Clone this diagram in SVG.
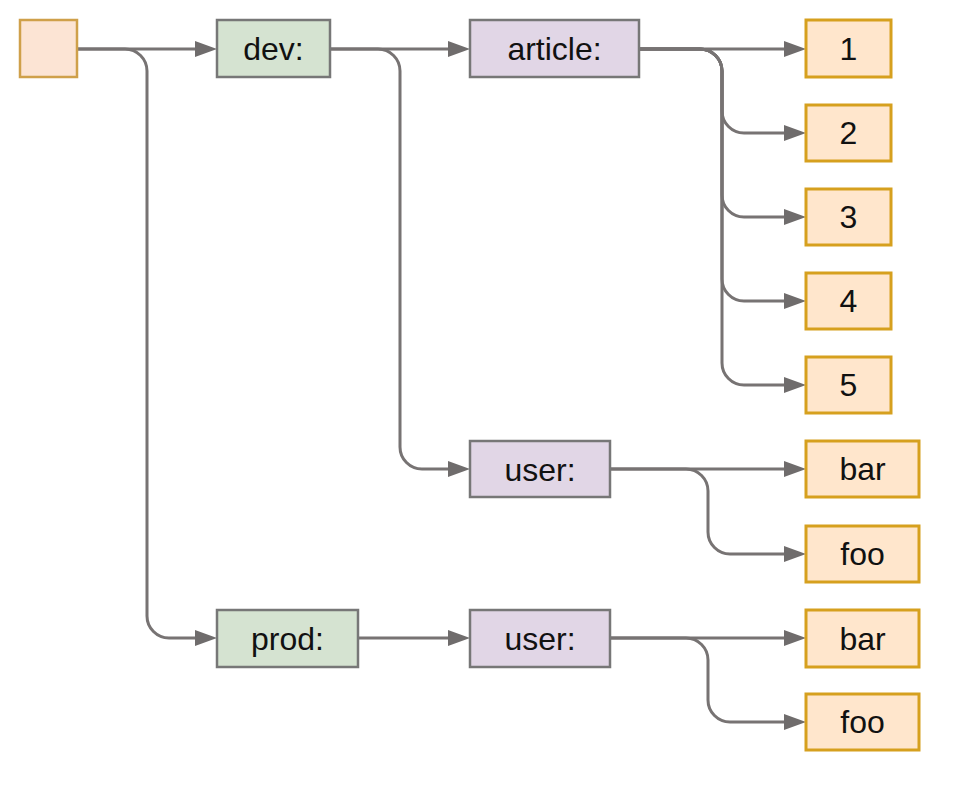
<svg xmlns="http://www.w3.org/2000/svg" width="960" height="792" viewBox="0 0 960 792">
  <style>
    .lbl { font-family: "Liberation Sans", Arial, sans-serif; font-size: 32px; fill: #111; text-anchor: middle; }
    .g { fill: #d5e3d1; stroke: #777; stroke-width: 2.5; }
    .p { fill: #e1d6e6; stroke: #777; stroke-width: 2.5; }
    .o { fill: #ffe6cc; stroke: #d6a01e; stroke-width: 3; }
    .r { fill: #fce4d4; stroke: #cfa04a; stroke-width: 2.5; }
    .e { fill: none; stroke: #777373; stroke-width: 3; marker-end: url(#arr); }
  </style>
  <defs>
    <marker id="arr" markerUnits="userSpaceOnUse" markerWidth="22" markerHeight="16" refX="0" refY="8" orient="auto">
      <path d="M0,0 L22,8 L0,16 z" fill="#6f6c6c"/>
    </marker>
  </defs>
  <rect width="960" height="792" fill="#fff"/>

  <g id="connectors">
    <path class="e" d="M77 49 H195"/>
    <path class="e" d="M77 49 H125 A22 22 0 0 1 147 71 V616 A22 22 0 0 0 169 638 H195"/>
    <path class="e" d="M330 49 H448"/>
    <path class="e" d="M330 49 H378 A22 22 0 0 1 400 71 V447 A22 22 0 0 0 422 469 H448"/>
    <path class="e" d="M639 49 H784"/>
    <path class="e" d="M639 49 H700 A22 22 0 0 1 722 71 V111 A22 22 0 0 0 744 133 H784"/>
    <path class="e" d="M639 49 H700 A22 22 0 0 1 722 71 V195 A22 22 0 0 0 744 217 H784"/>
    <path class="e" d="M639 49 H700 A22 22 0 0 1 722 71 V279 A22 22 0 0 0 744 301 H784"/>
    <path class="e" d="M639 49 H700 A22 22 0 0 1 722 71 V363 A22 22 0 0 0 744 385 H784"/>
    <path class="e" d="M610 469 H784"/>
    <path class="e" d="M610 469 H686 A22 22 0 0 1 708 491 V532 A22 22 0 0 0 730 554 H784"/>
    <path class="e" d="M358 638 H448"/>
    <path class="e" d="M610 638 H784"/>
    <path class="e" d="M610 638 H686 A22 22 0 0 1 708 660 V700 A22 22 0 0 0 730 722 H784"/>
  </g>

  <g id="root"><rect class="r" x="20" y="20" width="57" height="57"/></g>
  <g id="dev"><rect class="g" x="217" y="20" width="113" height="57"/><text class="lbl" x="273.5" y="60">dev:</text></g>
  <g id="prod"><rect class="g" x="217" y="610" width="141" height="57"/><text class="lbl" x="287.5" y="650">prod:</text></g>
  <g id="article"><rect class="p" x="470" y="20" width="169" height="57"/><text class="lbl" x="554.5" y="60">article:</text></g>
  <g id="dev-user"><rect class="p" x="470" y="441" width="140" height="56"/><text class="lbl" x="540" y="481">user:</text></g>
  <g id="prod-user"><rect class="p" x="470" y="610" width="140" height="57"/><text class="lbl" x="540" y="650">user:</text></g>
  <g id="a1"><rect class="o" x="806" y="20" width="85" height="57"/><text class="lbl" x="848.5" y="60">1</text></g>
  <g id="a2"><rect class="o" x="806" y="105" width="85" height="56"/><text class="lbl" x="848.5" y="144">2</text></g>
  <g id="a3"><rect class="o" x="806" y="189" width="85" height="56"/><text class="lbl" x="848.5" y="228">3</text></g>
  <g id="a4"><rect class="o" x="806" y="273" width="85" height="56"/><text class="lbl" x="848.5" y="312">4</text></g>
  <g id="a5"><rect class="o" x="806" y="357" width="85" height="56"/><text class="lbl" x="848.5" y="396">5</text></g>
  <g id="dev-bar"><rect class="o" x="806" y="441" width="113" height="56"/><text class="lbl" x="862.5" y="480">bar</text></g>
  <g id="dev-foo"><rect class="o" x="806" y="526" width="113" height="56"/><text class="lbl" x="862.5" y="565">foo</text></g>
  <g id="prod-bar"><rect class="o" x="806" y="610" width="113" height="57"/><text class="lbl" x="862.5" y="650">bar</text></g>
  <g id="prod-foo"><rect class="o" x="806" y="694" width="113" height="56"/><text class="lbl" x="862.5" y="733">foo</text></g>
</svg>
